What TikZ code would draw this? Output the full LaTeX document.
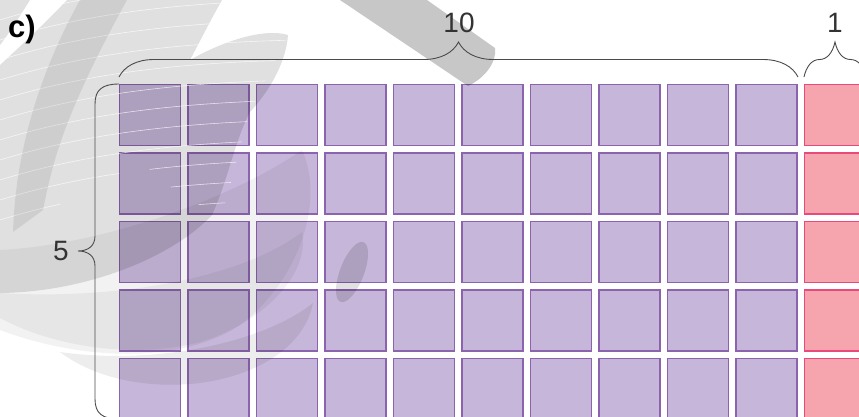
\documentclass[tikz,border=0pt]{standalone}
\usepackage{fontspec}
\setmainfont{Liberation Sans}
\usetikzlibrary{decorations.pathreplacing}
\definecolor{sqfill}{HTML}{C6B6D9}
\definecolor{sqdraw}{HTML}{8B63AE}
\definecolor{pkfill}{HTML}{F6A5AF}
\definecolor{pkdraw}{HTML}{E94A7B}
\definecolor{bracecol}{HTML}{4A4A4A}
\definecolor{txtcol}{HTML}{333333}
\tikzset{
  sq/.style={draw=sqdraw, fill=sqfill, line width=1.5pt, minimum size=61pt, inner sep=0pt, outer sep=0pt},
  pk/.style={draw=pkdraw, fill=pkfill, line width=1.5pt, minimum size=61pt, inner sep=0pt, outer sep=0pt},
  bracedraw/.style={draw=bracecol, line width=0.9pt},
  topbrace/.style={bracedraw, decorate, decoration={brace, amplitude=35pt}},
  lbl/.style={text=txtcol, font=\fontsize{28}{30}\selectfont, inner sep=0pt},
  wm/.style={fill=black, draw=none},
}
\begin{document}
\begin{tikzpicture}[x=1pt,y=-1pt]
\useasboundingbox (0,0) rectangle (859,416);
\begin{scope}
\clip (0,0) rectangle (859,416);
% grid of squares
\foreach \i in {0,...,9}{
  \foreach \j in {0,...,4}{
    \node[sq] (s\i-\j) at ({150+68.5*\i},{115+68.5*\j}) {};
  }
}
\foreach \j in {0,...,4}{
  \node[pk] (p-\j) at (835,{115+68.5*\j}) {};
}
% ---- watermark overlay ----
% outer light leaf (tip at 302,150)
\path[wm, fill opacity=.05] (0,250) .. controls (100,245) and (230,200) .. (302,150)
   .. controls (325,200) and (300,280) .. (240,325) .. controls (180,365) and (80,360) .. (0,330) -- cycle;
% main leaf + bowl
\path[wm, fill opacity=.12] (67,0) -- (222,0) .. controls (208,25) and (198,45) .. (190,60)
   .. controls (225,40) and (265,28) .. (288,35) .. controls (286,65) and (266,95) .. (250,112)
   .. controls (235,140) and (228,180) .. (212,215)
   .. controls (175,255) and (90,292) .. (0,293) -- (0,65) .. controls (25,42) and (48,20) .. (67,0) -- cycle;
\path[wm, fill opacity=.12] (0,0) -- (30,0) .. controls (20,16) and (10,32) .. (0,45) -- cycle;
% streaks
\begin{scope}
\clip (0,0) -- (222,0) .. controls (208,25) and (198,45) .. (190,60)
   .. controls (225,40) and (265,28) .. (288,35) -- (250,112) -- (222,215)
   .. controls (180,200) and (150,170) .. (140,160) .. controls (100,187) and (50,210) .. (0,230) -- cycle;
\foreach \k in {-2,...,14}{
  \draw[white, opacity=.75, line width=.55pt] (0,{20*\k+40}) .. controls (90,{20*\k+12}) and (190,{20*\k+2}) .. (300,{20*\k});
}
\end{scope}
% stem
\path[wm, fill opacity=.08] (80,0) -- (127,0) .. controls (105,40) and (68,110) .. (53,167)
   .. controls (48,185) and (45,200) .. (43,210) -- (13,232) .. controls (15,170) and (30,90) .. (80,0) -- cycle;
% crescents
\path[wm, fill opacity=.05] (0,293) .. controls (110,300) and (240,280) .. (302,232)
   .. controls (310,270) and (270,320) .. (200,342) .. controls (130,360) and (50,345) .. (0,318) -- cycle;
\path[wm, fill opacity=.07] (60,352) .. controls (150,365) and (260,345) .. (313,303)
   .. controls (305,345) and (260,375) .. (200,383) .. controls (140,390) and (90,375) .. (60,352) -- cycle;
\path[wm, fill opacity=.12] (352,272) ellipse[x radius=32, y radius=12, rotate=69];
% dark bar
\path[wm, fill opacity=.22] (340,0) -- (427,0) -- (495,48) .. controls (497,62) and (485,78) .. (468,86) -- cycle;
% ---- braces ----
\draw[topbrace] (119,77) -- (798,77);
\draw[topbrace] (804,77) -- (866,77);
\draw[bracedraw] (119,84) .. controls (102,84) and (95,90) .. (95,104) -- (95,236)
   .. controls (95,246) and (88,251) .. (78,251) .. controls (88,251) and (95,256) .. (95,266)
   -- (95,399) .. controls (95,413) and (102,419) .. (119,419);
\end{scope}
% labels
\node[lbl] (n10) at (459,23) {10};
\node[lbl] (n1) at (835,23) {1};
\node[lbl] (n5) at (61,251) {5};
\node[text=black, inner sep=0pt, font=\bfseries\fontsize{31}{33}\selectfont] (lc) at (22,29) {c)};
\end{tikzpicture}
\end{document}
